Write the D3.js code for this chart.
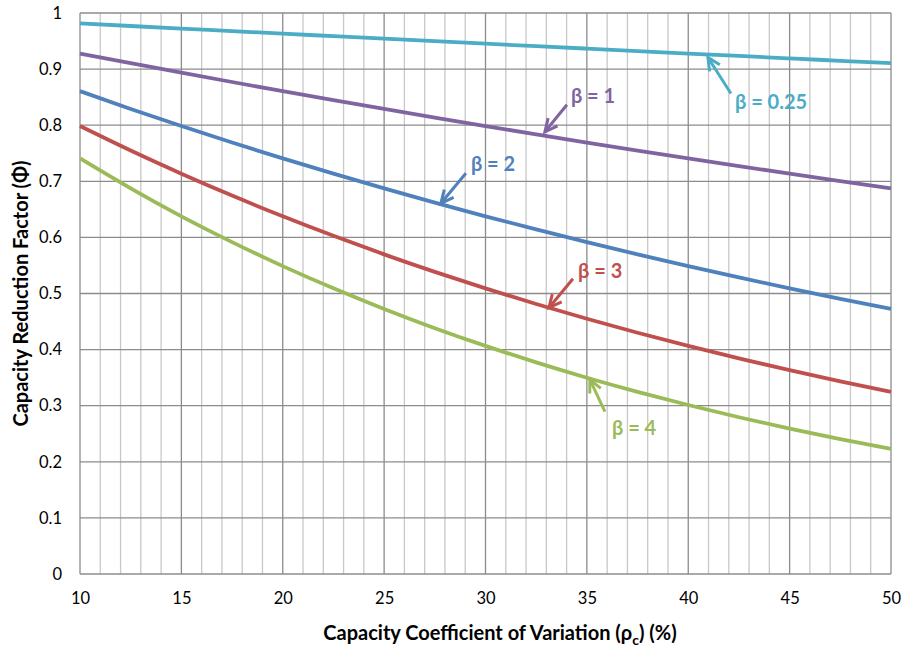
<!DOCTYPE html>
<html><head><meta charset="utf-8">
<script src="https://cdn.jsdelivr.net/npm/d3@7"></script>
<style>
body{margin:0;background:#fff;}
text{font-family:Lato,"Open Sans",sans-serif;}
</style></head>
<body><svg id="c" width="904" height="647"></svg>
<script>
const cov = [10,12.5,15,17.5,20,22.5,25,27.5,30,32.5,35,37.5,40,42.5,45,47.5,50];
const beta025 = [0.9814,0.9768,0.9723,0.9677,0.9632,0.9587,0.9542,0.9497,0.9453,0.9409,0.9365,0.9321,0.9277,0.9234,0.9191,0.9148,0.9105];
const beta1 = [0.9277,0.9105,0.8936,0.8770,0.8607,0.8447,0.8290,0.8136,0.7985,0.7837,0.7691,0.7548,0.7408,0.7271,0.7136,0.7003,0.6873];
const beta2 = [0.8607,0.8290,0.7985,0.7691,0.7408,0.7136,0.6873,0.6620,0.6376,0.6142,0.5916,0.5698,0.5488,0.5286,0.5092,0.4904,0.4724];
const beta3 = [0.7985,0.7548,0.7136,0.6745,0.6376,0.6028,0.5698,0.5386,0.5092,0.4813,0.4550,0.4301,0.4066,0.3843,0.3633,0.3434,0.3247];
const beta4 = [0.7408,0.6873,0.6376,0.5916,0.5488,0.5092,0.4724,0.4382,0.4066,0.3772,0.3499,0.3247,0.3012,0.2794,0.2592,0.2405,0.2231];
const seriesLabels = ["β = 0.25","β = 1","β = 2","β = 3","β = 4"];
const xTicks = [10,15,20,25,30,35,40,45,50];
const yTicks = [0,0.1,0.2,0.3,0.4,0.5,0.6,0.7,0.8,0.9,1];

const colors = ["#4BACC6","#8064A2","#4F81BD","#C0504D","#9BBB59"];
const allSeries = [beta025,beta1,beta2,beta3,beta4];
// annotation: arrow tip (data x), arrow tail offset & text baseline offset (px)
const ann = [
  {tipX:40.97, tipDy:3, tail:[23,36], text:[27,52]},
  {tipX:32.93, tipDy:-4, tail:[22,-27], text:[26,-29]},
  {tipX:27.8, tipDy:-1, tail:[25,-30], text:[30,-32]},
  {tipX:33.13, tipDy:0, tail:[24,-29], text:[29,-30]},
  {tipX:35.15, tipDy:1, tail:[15,32], text:[22,55]}
];

const svg = d3.select("#c");
const L=80, R=891, T=13, B=574;
const x = d3.scaleLinear().domain([10,50]).range([L,R]);
const y = d3.scaleLinear().domain([0,1]).range([B,T]);

const g = svg.append("g");
g.selectAll(".vmin").data(d3.range(11,50).filter(v=>v%5!==0)).enter().append("line")
  .attr("x1",d=>x(d)).attr("x2",d=>x(d)).attr("y1",T).attr("y2",B)
  .attr("stroke","#c8c8c8").attr("stroke-width",1.3);
g.selectAll(".vmaj").data(xTicks).enter().append("line")
  .attr("x1",d=>x(d)).attr("x2",d=>x(d)).attr("y1",T).attr("y2",B)
  .attr("stroke","#8c8c8c").attr("stroke-width",1.3);
g.selectAll(".h").data(yTicks).enter().append("line")
  .attr("x1",L).attr("x2",R).attr("y1",d=>y(d)).attr("y2",d=>y(d))
  .attr("stroke","#8c8c8c").attr("stroke-width",1.3);

const xAxis = d3.axisBottom(x).tickValues(xTicks).tickSize(0).tickPadding(18).tickFormat(d3.format("d"));
const xa = svg.append("g").attr("transform",`translate(0,${B})`).call(xAxis);
xa.select(".domain").remove();
xa.selectAll("text").attr("font-size",16.5).attr("fill","#000").style("font-family","Lato,'Open Sans',sans-serif");
const yAxis = d3.axisLeft(y).tickValues(yTicks).tickSize(0).tickPadding(18).tickFormat(d=>d3.format("~g")(d));
const ya = svg.append("g").attr("transform",`translate(${L},0)`).call(yAxis);
ya.select(".domain").remove();
ya.selectAll("text").attr("font-size",16.5).attr("fill","#000").style("font-family","Lato,'Open Sans',sans-serif");

const line = d3.line().x((d,i)=>x(cov[i])).y(d=>y(d)).curve(d3.curveNatural);
allSeries.forEach((s,k)=>{
  svg.append("path").datum(s).attr("d",line).attr("fill","none")
    .attr("stroke",colors[k]).attr("stroke-width",3.8).attr("stroke-linecap","butt");
});

const interp = (s,xv)=>{
  const i = Math.min(cov.length-2, Math.max(0, d3.bisectRight(cov,xv)-1));
  const t=(xv-cov[i])/(cov[i+1]-cov[i]);
  return s[i]+(s[i+1]-s[i])*t;
};
ann.forEach((a,k)=>{
  const tx = x(a.tipX), ty = y(interp(allSeries[k],a.tipX))+a.tipDy;
  const sx = tx+a.tail[0], sy = ty+a.tail[1];
  const ang = Math.atan2(ty-sy, tx-sx);
  const hl=14, ha=0.45;
  const p1=[tx-hl*Math.cos(ang-ha), ty-hl*Math.sin(ang-ha)];
  const p2=[tx-hl*Math.cos(ang+ha), ty-hl*Math.sin(ang+ha)];
  svg.append("line").attr("x1",sx).attr("y1",sy).attr("x2",tx).attr("y2",ty)
    .attr("stroke",colors[k]).attr("stroke-width",3);
  svg.append("path").attr("d",`M${p1[0]},${p1[1]}L${tx},${ty}L${p2[0]},${p2[1]}`)
    .attr("fill","none").attr("stroke",colors[k]).attr("stroke-width",3).attr("stroke-linejoin","miter");
  svg.append("text").attr("x",tx+a.text[0]).attr("y",ty+a.text[1])
    .attr("font-size",20).attr("font-weight","bold").attr("fill",colors[k]).text(seriesLabels[k]);
});

svg.append("text").attr("transform",`translate(28,${(T+B)/2}) rotate(-90)`)
  .attr("text-anchor","middle").attr("font-size",20).attr("font-weight","bold").attr("fill","#000")
  .text("Capacity Reduction Factor (Φ)");
const xt = svg.append("text").attr("x",500).attr("y",640).attr("text-anchor","middle")
  .attr("font-size",20).attr("font-weight","bold").attr("fill","#000");
xt.append("tspan").text("Capacity Coefficient of Variation (ρ");
xt.append("tspan").attr("font-size",14).attr("dy",5).text("c");
xt.append("tspan").attr("dy",-5).text(") (%)");
</script></body></html>
